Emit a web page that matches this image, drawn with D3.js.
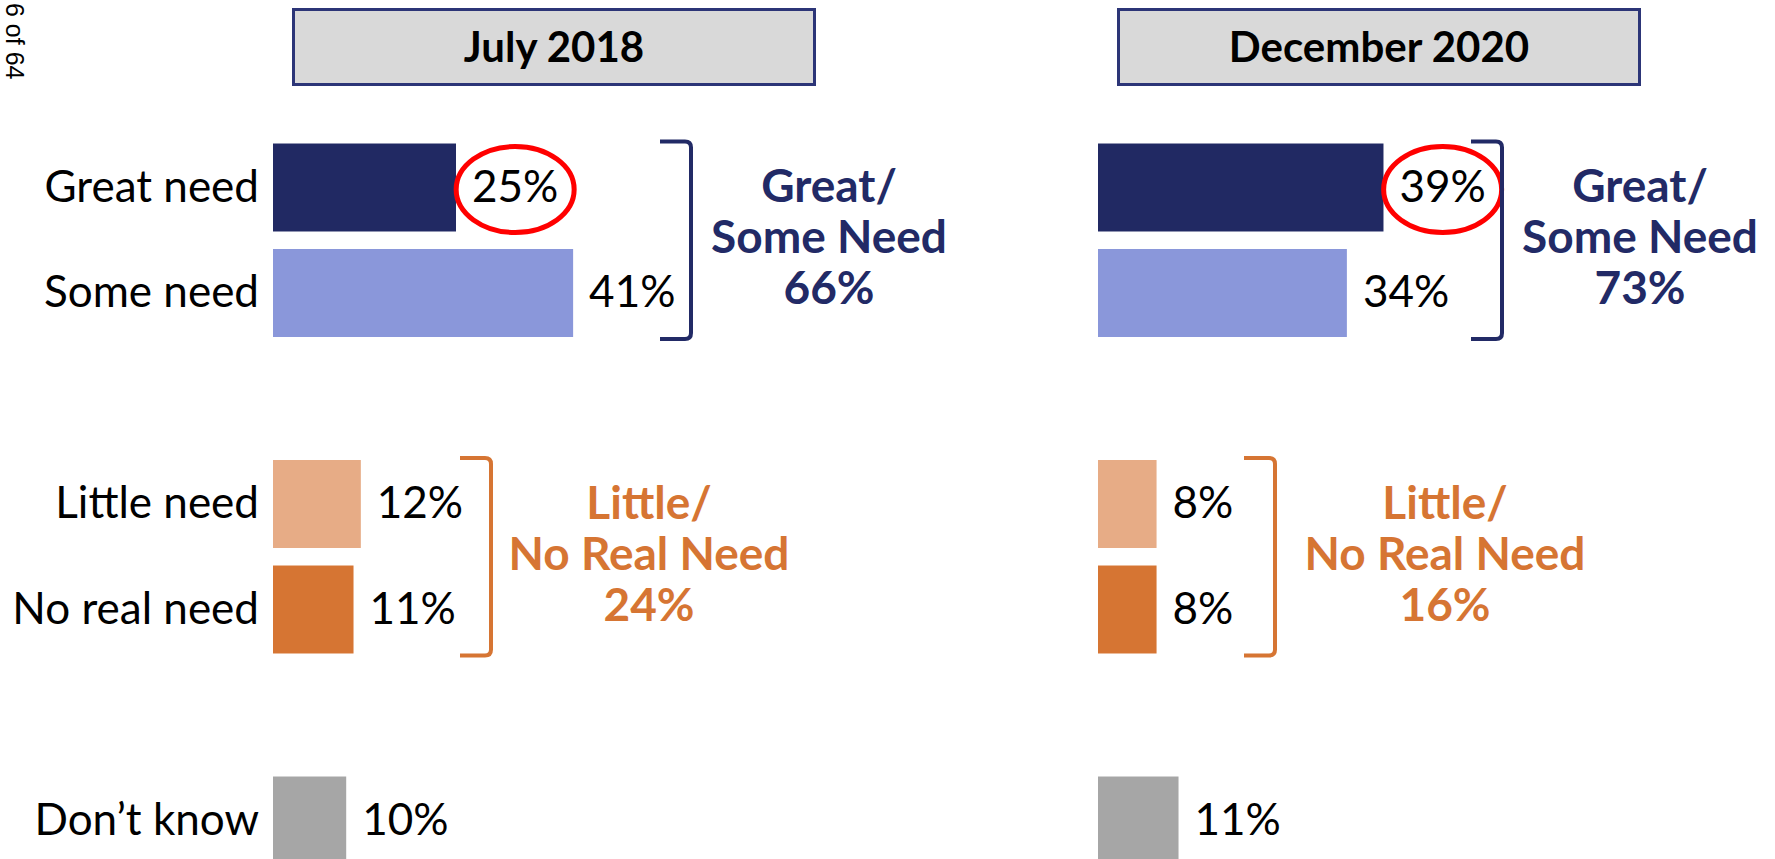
<!DOCTYPE html>
<html>
<head>
<meta charset="utf-8">
<script src="https://cdn.jsdelivr.net/npm/d3@7"></script>
<style>
  html, body { margin: 0; padding: 0; background: #fff; overflow: hidden; }
  svg { display: block; }
  text { font-family: Lato, "Open Sans", sans-serif; }
</style>
</head>
<body>
<svg id="chart" width="1775" height="859"></svg>
<script>
// ---- data ----
const categories = ["Great need", "Some need", "Little need", "No real need", "Don\u2019t know"];
const periods = ["July 2018", "December 2020"];
const valuesJuly2018 = [25, 41, 12, 11, 10];
const valuesDec2020 = [39, 34, 8, 8, 11];
const groupLabels = [["Great/", "Some Need"], ["Little/", "No Real Need"]];
const groupMembers = [["Great need", "Some need"], ["Little need", "No real need"]];
const groupTotalsJuly2018 = [66, 24];
const groupTotalsDec2020 = [73, 16];
const highlightedCategory = "Great need";
const pageLabel = "6 of 64";

// ---- style / layout ----
const barColors = {
  "Great need": "#212963",
  "Some need": "#8a97da",
  "Little need": "#e7ac86",
  "No real need": "#d67533",
  "Don\u2019t know": "#a6a6a6"
};
const groupColors = ["#222a66", "#d67533"];

const svg = d3.select("#chart");

// vertical slots: categories with blank separators between groups
const slots = ["Great need", "Some need", "_gap1", "Little need", "No real need", "_gap2", "Don\u2019t know"];
const y = d3.scaleBand().domain(slots).range([134.75, 873.25]).paddingInner(0.166).paddingOuter(0.083);

const x = d3.scaleLinear().domain([0, 100]).range([0, 732]);

const panels = [
  { title: periods[0], values: valuesJuly2018, totals: groupTotalsJuly2018, x0: 273,
    bracketX: [691, 491], groupCx: [829, 649], showCats: true },
  { title: periods[1], values: valuesDec2020, totals: groupTotalsDec2020, x0: 1098,
    bracketX: [1502, 1275], groupCx: [1640, 1445], showCats: false }
];

const FS = 44;

panels.forEach(p => {
  const g = svg.append("g").attr("transform", `translate(${p.x0},0)`);

  // header box
  g.append("rect")
    .attr("x", 20.5).attr("y", 9.5).attr("width", 521).attr("height", 75)
    .attr("fill", "#d9d9d9").attr("stroke", "#2c3577").attr("stroke-width", 3);
  g.append("text")
    .attr("x", 20.5 + 521 / 2).attr("y", 62)
    .attr("text-anchor", "middle").attr("font-weight", 700).attr("font-size", 42)
    .attr("fill", "#000").text(p.title);

  const rows = categories.map((c, i) => ({ cat: c, v: p.values[i] }));

  // bars
  g.selectAll("rect.bar").data(rows).enter().append("rect")
    .attr("class", "bar")
    .attr("x", x(0))
    .attr("y", d => y(d.cat))
    .attr("width", d => x(d.v) - x(0))
    .attr("height", y.bandwidth())
    .attr("fill", d => barColors[d.cat]);

  // value labels
  const vl = g.selectAll("text.val").data(rows).enter().append("text")
    .attr("class", "val")
    .attr("x", d => x(d.v) + 16)
    .attr("y", d => y(d.cat) + y.bandwidth() / 2 + 14)
    .attr("font-size", FS).attr("fill", "#000")
    .text(d => d.v + "%");

  // highlight ellipse
  vl.filter(d => d.cat === highlightedCategory).each(function(d) {
    const bb = this.getBBox();
    g.append("ellipse")
      .attr("cx", bb.x + bb.width / 2)
      .attr("cy", y(d.cat) + y.bandwidth() / 2 + 2)
      .attr("rx", 59).attr("ry", 43)
      .attr("fill", "none").attr("stroke", "#ff0000").attr("stroke-width", 5);
  });

  // category labels
  if (p.showCats) {
    g.selectAll("text.cat").data(rows).enter().append("text")
      .attr("class", "cat")
      .attr("x", x(0) - 14)
      .attr("y", d => y(d.cat) + y.bandwidth() / 2 + 14)
      .attr("text-anchor", "end").attr("font-size", FS).attr("fill", "#000")
      .text(d => d.cat);
  }

  // brackets + group labels
  groupMembers.forEach((mem, gi) => {
    const top = y(mem[0]) - 2;
    const bot = y(mem[mem.length - 1]) + y.bandwidth() + 2;
    const bx = p.bracketX[gi] - p.x0;
    const arm = 31, r = 6;
    const path = d3.path();
    path.moveTo(bx - arm, top);
    path.lineTo(bx - r, top);
    path.quadraticCurveTo(bx, top, bx, top + r);
    path.lineTo(bx, bot - r);
    path.quadraticCurveTo(bx, bot, bx - r, bot);
    path.lineTo(bx - arm, bot);
    g.append("path").attr("d", path.toString())
      .attr("fill", "none").attr("stroke", groupColors[gi]).attr("stroke-width", 4);

    const mid = (top + bot) / 2 + 13;
    const lines = [groupLabels[gi][0], groupLabels[gi][1], p.totals[gi] + "%"];
    g.append("g").selectAll("text").data(lines).enter().append("text")
      .attr("x", p.groupCx[gi] - p.x0)
      .attr("y", (d, i) => mid + (i - 1) * 51)
      .attr("text-anchor", "middle").attr("font-weight", 700).attr("font-size", 46)
      .attr("fill", groupColors[gi])
      .text(d => d);
  });
});

// page number (rotated)
svg.append("text")
  .attr("transform", "translate(6,3) rotate(90)")
  .style("font-family", "'Liberation Sans', Arial, sans-serif")
  .attr("font-size", 25).attr("fill", "#000")
  .text(pageLabel);
</script>
</body>
</html>
